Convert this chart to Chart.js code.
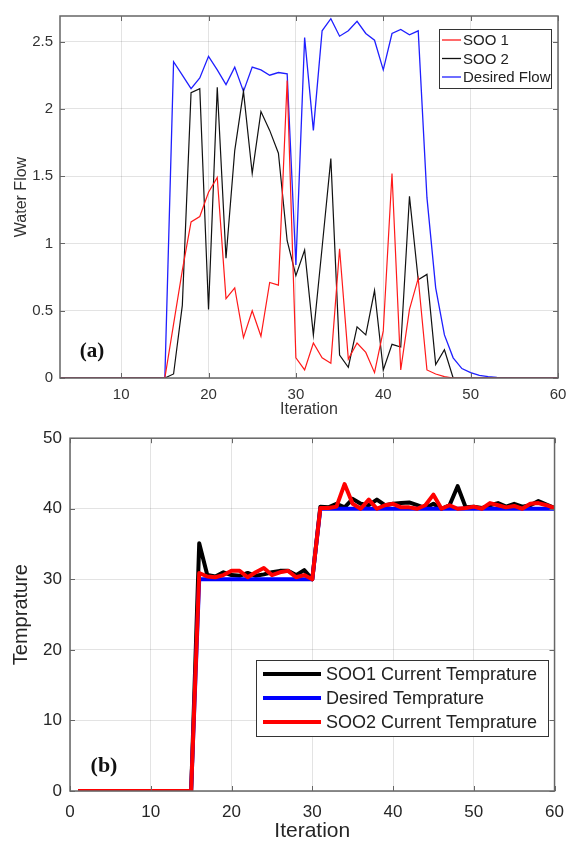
<!DOCTYPE html>
<html>
<head>
<meta charset="utf-8">
<script src="https://cdn.jsdelivr.net/npm/chart.js@4.4.1/dist/chart.umd.min.js"></script>
<style>
    body { margin: 0; background: #fff; }
    canvas { display: block; }
</style>
</head>
<body>
<canvas id="flowChart" width="575" height="420"></canvas>
<canvas id="tempChart" width="575" height="433"></canvas>
<script>
// iteration numbers shared by both panels
const iterations = [1, 2, 3, 4, 5, 6, 7, 8, 9, 10, 11, 12, 13, 14, 15, 16, 17, 18, 19, 20,
    21, 22, 23, 24, 25, 26, 27, 28, 29, 30, 31, 32, 33, 34, 35, 36, 37, 38, 39, 40,
    41, 42, 43, 44, 45, 46, 47, 48, 49, 50, 51, 52, 53, 54, 55, 56, 57, 58, 59, 60];

// (a) water flow
const soo1Flow = [0, 0, 0, 0, 0, 0, 0, 0, 0, 0, 0, 0, 0, 0, 0, 0.4, 0.8, 1.16, 1.2, 1.38,
    1.49, 0.59, 0.67, 0.3, 0.5, 0.31, 0.71, 0.69, 2.21, 0.15, 0.06, 0.26, 0.15, 0.11, 0.96, 0.14, 0.26, 0.19, 0.04, 0.35,
    1.52, 0.06, 0.51, 0.74, 0.06, 0.03, 0.01, 0, 0, 0, 0, 0, 0, 0, 0, 0, 0, 0, 0, 0];
const soo2Flow = [0, 0, 0, 0, 0, 0, 0, 0, 0, 0, 0, 0, 0, 0, 0, 0.03, 0.54, 2.12, 2.15, 0.51,
    2.16, 0.89, 1.69, 2.13, 1.52, 1.98, 1.84, 1.67, 1.02, 0.76, 0.95, 0.32, 0.97, 1.63, 0.17, 0.08, 0.38, 0.32, 0.65, 0.06,
    0.25, 0.23, 1.35, 0.73, 0.77, 0.1, 0.21, 0, 0, 0, 0, 0, 0, 0, 0, 0, 0, 0, 0, 0];
const desiredFlow = [0, 0, 0, 0, 0, 0, 0, 0, 0, 0, 0, 0, 0, 0, 0, 2.35, 2.25, 2.15, 2.23, 2.39,
    2.29, 2.18, 2.31, 2.13, 2.31, 2.29, 2.25, 2.27, 2.26, 0.84, 2.53, 1.84, 2.58, 2.67, 2.54, 2.58, 2.65, 2.56, 2.51, 2.29,
    2.56, 2.59, 2.55, 2.58, 1.34, 0.67, 0.32, 0.15, 0.07, 0.04, 0.02, 0.01, 0.005, 0.003, 0, 0, 0, 0, 0, 0];
const flowXTicks = [10, 20, 30, 40, 50, 60];
const flowYTicks = [0, 0.5, 1, 1.5, 2, 2.5];
const flowLabels = ['SOO 1', 'SOO 2', 'Desired Flow'];

// (b) temperature
const soo1Temp = [0, 0, 0, 0, 0, 0, 0, 0, 0, 0, 0, 0, 0, 0, 0, 35.1, 30.6, 30.4, 31.0, 30.6,
    30.5, 30.9, 30.5, 30.7, 31.0, 31.2, 31.2, 30.6, 31.3, 30.0, 40.3, 40.2, 40.7, 40.2, 41.4, 40.7, 40.5, 41.3, 40.5, 40.7,
    40.8, 40.9, 40.5, 40.1, 40.7, 40.0, 40.5, 43.2, 40.2, 40.3, 40.1, 40.5, 40.8, 40.3, 40.7, 40.3, 40.5, 41.1, 40.6, 40.1];
const desiredTemp = [0, 0, 0, 0, 0, 0, 0, 0, 0, 0, 0, 0, 0, 0, 0, 30, 30, 30, 30, 30,
    30, 30, 30, 30, 30, 30, 30, 30, 30, 30, 40, 40, 40, 40, 40, 40, 40, 40, 40, 40,
    40, 40, 40, 40, 40, 40, 40, 40, 40, 40, 40, 40, 40, 40, 40, 40, 40, 40, 40, 40];
const soo2Temp = [0, 0, 0, 0, 0, 0, 0, 0, 0, 0, 0, 0, 0, 0, 0, 30.9, 30.4, 30.3, 30.6, 31.2,
    31.2, 30.3, 31.0, 31.6, 30.6, 31.0, 31.2, 30.3, 30.6, 30.0, 40.1, 40.1, 40.3, 43.5, 40.7, 40.0, 41.3, 40.0, 40.5, 40.7,
    40.2, 40.2, 40.0, 40.5, 42.0, 40.0, 40.5, 40.0, 40.1, 40.3, 40.0, 40.8, 40.5, 40.2, 40.4, 40.0, 40.7, 40.8, 40.5, 40.1];
const tempXTicks = [0, 10, 20, 30, 40, 50, 60];
const tempYTicks = [0, 10, 20, 30, 40, 50];
const tempLabels = ['SOO1 Current Temprature', 'Desired Temprature', 'SOO2 Current Temprature'];

const toPoints = (values) => iterations.map((it, i) => ({ x: it, y: values[i] }));

// matlab-like box with inward ticks, an in-plot legend and a panel tag
const matlabBox = {
    id: 'matlabBox',
    afterDatasetsDraw(chart, args, opts) {
        const { ctx, chartArea: a, scales } = chart;
        ctx.save();

        ctx.strokeStyle = opts.frameColor;
        ctx.lineWidth = opts.frameWidth;
        ctx.strokeRect(a.left, a.top, a.right - a.left, a.bottom - a.top);
        ctx.beginPath();
        scales.x.ticks.forEach(t => {
            const px = Math.round(scales.x.getPixelForValue(t.value)) + 0.5;
            ctx.moveTo(px, a.bottom); ctx.lineTo(px, a.bottom - 5);
            ctx.moveTo(px, a.top); ctx.lineTo(px, a.top + 5);
        });
        scales.y.ticks.forEach(t => {
            const py = Math.round(scales.y.getPixelForValue(t.value)) + 0.5;
            ctx.moveTo(a.left, py); ctx.lineTo(a.left + 5, py);
            ctx.moveTo(a.right, py); ctx.lineTo(a.right - 5, py);
        });
        ctx.lineWidth = 1;
        ctx.stroke();

        const lg = opts.legend;
        ctx.fillStyle = '#fff';
        ctx.fillRect(lg.x, lg.y, lg.w, lg.h);
        ctx.strokeStyle = '#333';
        ctx.lineWidth = 1;
        ctx.strokeRect(lg.x + 0.5, lg.y + 0.5, lg.w, lg.h);
        ctx.font = lg.font;
        ctx.textBaseline = 'middle';
        lg.items.forEach((item, i) => {
            const y = lg.y + lg.first + i * lg.step;
            ctx.strokeStyle = item.color;
            ctx.lineWidth = lg.lineWidth;
            ctx.beginPath();
            ctx.moveTo(lg.x + lg.inset, y);
            ctx.lineTo(lg.x + lg.inset + lg.lineLen, y);
            ctx.stroke();
            ctx.fillStyle = '#222';
            ctx.fillText(item.text, lg.x + lg.inset + lg.lineLen + lg.gap, y + 1);
        });

        const tag = opts.tag;
        ctx.font = tag.font;
        ctx.fillStyle = '#111';
        ctx.textAlign = 'center';
        ctx.fillText(tag.text, tag.x, tag.y);
        ctx.restore();
    }
};

const gridStyle = { color: 'rgba(0, 0, 0, 0.11)', drawTicks: false };

new Chart(document.getElementById('flowChart'), {
    type: 'line',
    data: {
        datasets: [
            { label: flowLabels[0], data: toPoints(soo1Flow), borderColor: '#ff1a1a', borderWidth: 1.2, order: 1 },
            { label: flowLabels[1], data: toPoints(soo2Flow), borderColor: '#111', borderWidth: 1.2, order: 2 },
            { label: flowLabels[2], data: toPoints(desiredFlow), borderColor: '#1f1fff', borderWidth: 1.3, order: 3 }
        ]
    },
    options: {
        responsive: false,
        animation: false,
        layout: { padding: { top: 7, right: 17, left: 0, bottom: 0 } },
        elements: { point: { radius: 0 }, line: { tension: 0 } },
        scales: {
            x: {
                type: 'linear', min: 3, max: 60,
                afterBuildTicks: s => { s.ticks = flowXTicks.map(v => ({ value: v })); },
                afterFit: s => { s.height = 42; },
                ticks: { autoSkip: false, maxRotation: 0, padding: 8, color: '#333', font: { family: 'Liberation Sans', size: 15 } },
                grid: gridStyle, border: { display: false },
                title: { display: true, text: 'Iteration', color: '#333', font: { family: 'Liberation Sans', size: 16 }, padding: { top: 0, bottom: 1 } }
            },
            y: {
                min: 0, max: 2.69,
                afterBuildTicks: s => { s.ticks = flowYTicks.map(v => ({ value: v })); },
                afterFit: s => { s.width = 60; },
                ticks: { autoSkip: false, padding: 7, color: '#333', font: { family: 'Liberation Sans', size: 15 }, callback: v => String(v) },
                grid: gridStyle, border: { display: false },
                title: { display: true, text: 'Water Flow', color: '#333', font: { family: 'Liberation Sans', size: 16 }, padding: { top: 12, bottom: 0 } }
            }
        },
        plugins: {
            legend: { display: false },
            tooltip: { enabled: false },
            matlabBox: {
                frameColor: '#666', frameWidth: 1.5,
                legend: {
                    x: 439, y: 29, w: 112, h: 59, first: 11, step: 18.5, inset: 3, lineLen: 19, gap: 2, lineWidth: 1.3,
                    font: '15px "Liberation Sans"',
                    items: [
                        { text: flowLabels[0], color: '#ff1a1a' },
                        { text: flowLabels[1], color: '#111' },
                        { text: flowLabels[2], color: '#1f1fff' }
                    ]
                },
                tag: { text: '(a)', x: 92, y: 352, font: 'bold 21px "Liberation Serif"' }
            }
        }
    },
    plugins: [matlabBox]
});

new Chart(document.getElementById('tempChart'), {
    type: 'line',
    data: {
        datasets: [
            { label: tempLabels[0], data: toPoints(soo1Temp), borderColor: '#000', borderWidth: 4, order: 3 },
            { label: tempLabels[1], data: toPoints(desiredTemp), borderColor: '#0000ff', borderWidth: 4, order: 2 },
            { label: tempLabels[2], data: toPoints(soo2Temp), borderColor: '#ff0000', borderWidth: 4, order: 1 }
        ]
    },
    options: {
        responsive: false,
        animation: false,
        layout: { padding: { top: 18, right: 10, left: 0, bottom: 0 } },
        elements: { point: { radius: 0 }, line: { tension: 0, borderJoinStyle: 'round' } },
        scales: {
            x: {
                type: 'linear', min: 0, max: 60,
                afterBuildTicks: s => { s.ticks = tempXTicks.map(v => ({ value: v })); },
                afterFit: s => { s.height = 62; },
                ticks: { autoSkip: false, maxRotation: 0, padding: 11, color: '#262626', font: { family: 'Liberation Sans', size: 17 } },
                grid: gridStyle, border: { display: false },
                title: { display: true, text: 'Iteration', color: '#262626', font: { family: 'Liberation Sans', size: 21 }, padding: { top: 0, bottom: 9 } }
            },
            y: {
                min: 0, max: 50,
                afterBuildTicks: s => { s.ticks = tempYTicks.map(v => ({ value: v })); },
                afterFit: s => { s.width = 70; },
                ticks: { autoSkip: false, padding: 8, color: '#262626', font: { family: 'Liberation Sans', size: 17 } },
                grid: gridStyle, border: { display: false },
                title: { display: true, text: 'Temprature', color: '#262626', font: { family: 'Liberation Sans', size: 20 }, padding: { top: 9, bottom: 0 } }
            }
        },
        plugins: {
            legend: { display: false },
            tooltip: { enabled: false },
            matlabBox: {
                frameColor: '#666', frameWidth: 1.5,
                legend: {
                    x: 256, y: 240, w: 292, h: 76, first: 14, step: 24, inset: 7, lineLen: 58, gap: 5, lineWidth: 4,
                    font: '18px "Liberation Sans"',
                    items: [
                        { text: tempLabels[0], color: '#000' },
                        { text: tempLabels[1], color: '#0000ff' },
                        { text: tempLabels[2], color: '#ff0000' }
                    ]
                },
                tag: { text: '(b)', x: 104, y: 346, font: 'bold 22px "Liberation Serif"' }
            }
        }
    },
    plugins: [matlabBox]
});
</script>
</body>
</html>
